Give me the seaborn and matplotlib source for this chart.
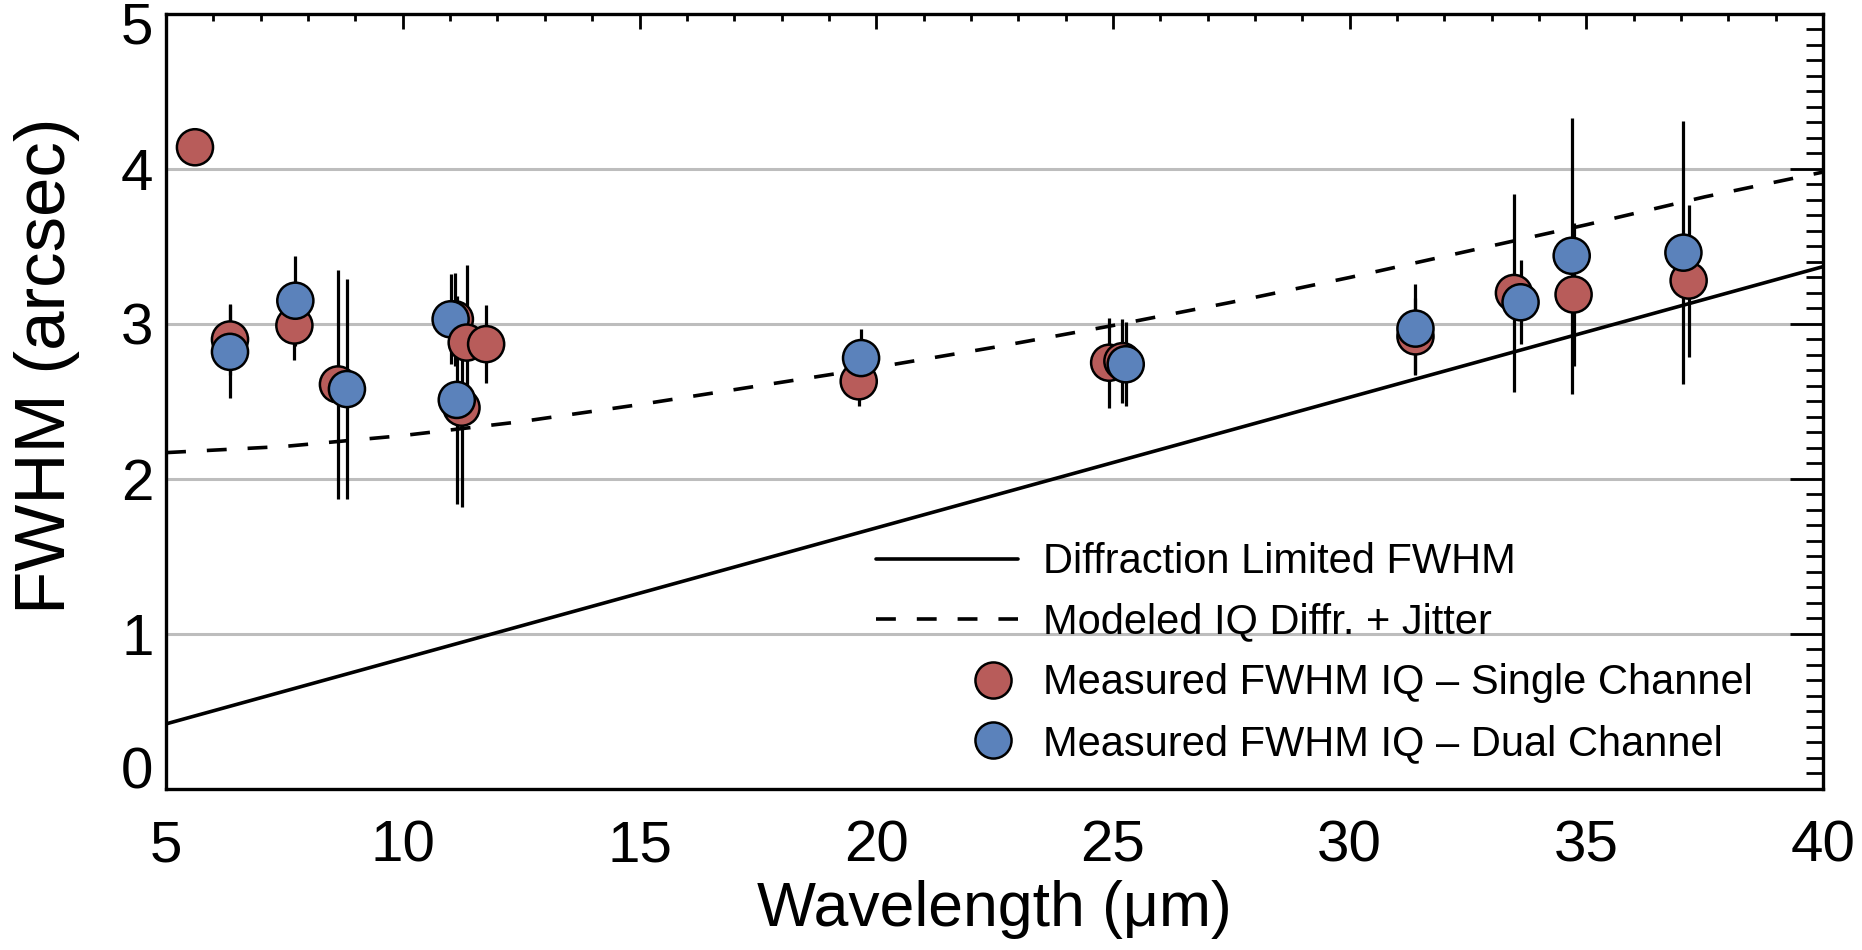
import matplotlib
matplotlib.use('Agg')
import matplotlib.pyplot as plt
import matplotlib.transforms as mtransforms
from matplotlib.lines import Line2D
from matplotlib.ticker import MultipleLocator
import pandas as pd
import seaborn as sns

# Measured FWHM IQ - single channel
single_wave = [5.61, 6.35, 7.71, 8.63, 11.10, 11.24, 11.35, 11.76, 19.63,
               24.92, 25.20, 31.39, 33.47, 34.73, 37.16]
single_fwhm = [4.14, 2.90, 2.99, 2.61, 3.03, 2.46, 2.88, 2.87, 2.63,
               2.75, 2.76, 2.92, 3.20, 3.19, 3.28]
single_err = [0.05, 0.23, 0.22, 0.74, 0.30, 0.64, 0.50, 0.25, 0.16,
              0.29, 0.27, 0.25, 0.64, 0.46, 0.49]
single_filter = [5.6, 6.4, 7.7, 8.6, 11.1, 11.2, 11.3, 11.8, 19.7,
                 24.2, 25.3, 31.5, 33.6, 34.8, 37.1]

# Measured FWHM IQ - dual channel
dual_wave = [6.35, 7.73, 8.82, 11.01, 11.14, 19.68, 25.27, 31.39, 33.61, 34.69, 37.05]
dual_fwhm = [2.82, 3.15, 2.58, 3.03, 2.51, 2.78, 2.74, 2.97, 3.14, 3.44, 3.46]
dual_err = [0.30, 0.29, 0.71, 0.29, 0.67, 0.19, 0.27, 0.29, 0.27, 0.89, 0.85]
dual_filter = [6.4, 7.7, 8.6, 11.1, 11.2, 19.7, 25.3, 31.5, 33.6, 34.8, 37.1]

# Diffraction limited FWHM (straight line)
diff_wave = [5, 40]
diff_fwhm = [0.42, 3.37]

# Modeled IQ: diffraction + jitter
model_wave = [5, 7.5, 10, 12.5, 15, 17.5, 20, 22.5, 25, 27.5, 30, 32.5, 35, 37.5, 40]
model_fwhm = [2.17, 2.21, 2.28, 2.37, 2.48, 2.60, 2.72, 2.85, 2.99, 3.14,
              3.30, 3.47, 3.64, 3.82, 3.98]

x_ticks = [5, 10, 15, 20, 25, 30, 35, 40]
y_ticks = [0, 1, 2, 3, 4, 5]

SINGLE = 'Measured FWHM IQ \u2013 Single Channel'
DUAL = 'Measured FWHM IQ \u2013 Dual Channel'
RED = '#B85C5A'
BLUE = '#5B82BB'
DASH = (0, (5.5, 5.8))

sns.set_theme(style='white')
plt.rcParams['font.family'] = ['Liberation Sans', 'DejaVu Sans']
plt.rcParams['text.color'] = 'black'
plt.rcParams['axes.labelcolor'] = 'black'
plt.rcParams['xtick.color'] = 'black'
plt.rcParams['ytick.color'] = 'black'

# one table, drawn filter by filter (single then dual), so overlaps stack like the original
single_df = pd.DataFrame({'wave': single_wave, 'fwhm': single_fwhm, 'err': single_err,
                          'filter': single_filter, 'channel': SINGLE, 'order': 0})
dual_df = pd.DataFrame({'wave': dual_wave, 'fwhm': dual_fwhm, 'err': dual_err,
                        'filter': dual_filter, 'channel': DUAL, 'order': 1})
points = pd.concat([single_df, dual_df]).sort_values(['filter', 'order'], kind='stable')

fig = plt.figure(figsize=(18.62, 9.5), dpi=100)
ax = fig.add_axes([0.0892, 0.1695, 0.8899, 0.8158])

# grid lines at 1..4 only
for yv in y_ticks[1:-1]:
    ax.axhline(yv, color='#BDBDBD', lw=2.2, zorder=0)

sns.lineplot(x=diff_wave, y=diff_fwhm, color='black', lw=2.6, ax=ax, zorder=1.5)
sns.lineplot(x=model_wave, y=model_fwhm, color='black', lw=2.6, ax=ax, zorder=1.5,
             linestyle=DASH)

ax.errorbar(points['wave'], points['fwhm'], yerr=points['err'], fmt='none',
            ecolor='black', elinewidth=2.3, capsize=0, zorder=2)

sns.scatterplot(data=points, x='wave', y='fwhm', hue='channel',
                palette={SINGLE: RED, DUAL: BLUE}, s=676, edgecolor='black',
                linewidth=1.8, legend=False, ax=ax, zorder=3)

ax.set_xlim(5, 40)
ax.set_ylim(0, 5)
ax.set_xticks(x_ticks)
ax.set_yticks(y_ticks)
ax.xaxis.set_minor_locator(MultipleLocator(1))
ax.yaxis.set_minor_locator(MultipleLocator(0.1))

for sp in ax.spines.values():
    sp.set_linewidth(2.4)
    sp.set_color('black')

ax.tick_params(which='both', direction='in', top=True, right=True,
               color='black', width=2.0)
ax.tick_params(axis='x', which='major', length=11, pad=22, labelsize=42)
ax.tick_params(axis='x', which='minor', length=5)
ax.tick_params(axis='y', which='major', length=24, pad=9, labelsize=42)
ax.tick_params(axis='y', which='minor', length=12)

# the "0" label sits above the corner, the "5" a bit below the top, like in the original
ylabels = ax.get_yticklabels()
ylabels[0].set_va('baseline')
ylabels[-1].set_transform(ylabels[-1].get_transform() +
                          mtransforms.ScaledTranslation(0, -6 / 72, fig.dpi_scale_trans))

ax.set_xlabel('Wavelength (\u03bcm)', fontsize=45)
ax.set_ylabel('FWHM (arcsec)', fontsize=51)
ax.xaxis.set_label_coords(0.5, -0.117)
ax.yaxis.set_label_coords(-0.052, 0.546)

line_handles = [Line2D([], [], color='black', lw=2.6),
                Line2D([], [], color='black', lw=2.6, linestyle=DASH)]
leg1 = ax.legend(line_handles, ['Diffraction Limited FWHM', 'Modeled IQ Diffr. + Jitter'],
                 loc='upper left', bbox_to_anchor=(0.4285, 0.3185), frameon=False,
                 fontsize=30, handlelength=3.4, handletextpad=0.6, labelspacing=0.49,
                 borderpad=0, borderaxespad=0)
ax.add_artist(leg1)

marker_handles = [Line2D([], [], ls='none', marker='o', markersize=26,
                         markerfacecolor=c, markeredgecolor='black', markeredgewidth=1.8)
                  for c in (RED, BLUE)]
ax.legend(marker_handles, [SINGLE, DUAL], loc='upper left',
          bbox_to_anchor=(0.484, 0.162), frameon=False, fontsize=30,
          handlelength=1.2, handletextpad=0.6, labelspacing=0.49,
          borderpad=0, borderaxespad=0)

fig.savefig('out.png', dpi=100)
